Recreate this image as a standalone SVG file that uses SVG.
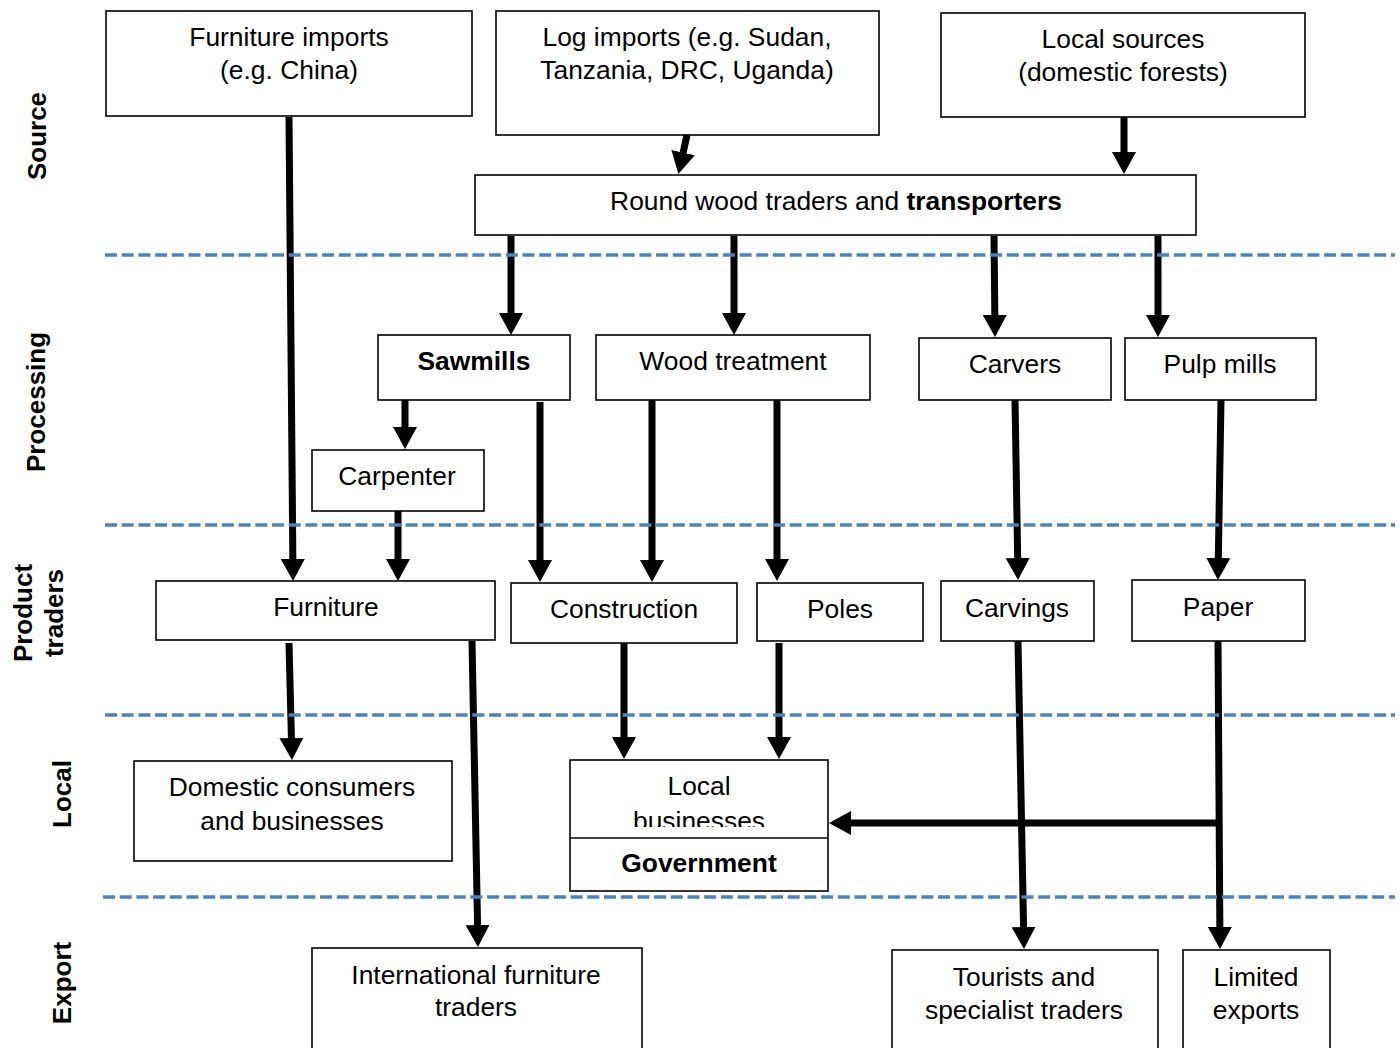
<svg xmlns="http://www.w3.org/2000/svg" width="1400" height="1048" viewBox="0 0 1400 1048">
<style>
.box{fill:#fff;stroke:#000;stroke-width:1.6}
.t{font-family:"Liberation Sans",Arial,sans-serif;font-size:26.4px;fill:#000;text-anchor:middle}
.b{font-weight:bold}
.lbl{font-family:"Liberation Sans",Arial,sans-serif;font-size:26px;font-weight:bold;fill:#000;text-anchor:middle}
.ar{fill:none;stroke:#000;stroke-width:7;marker-end:url(#ah)}
.dash{stroke:#4f81bd;stroke-width:3.6;stroke-dasharray:12 4.7;fill:none}
</style>
<defs>
<marker id="ah" markerUnits="userSpaceOnUse" viewBox="0 0 22 24" refX="7" refY="12" markerWidth="22" markerHeight="24" orient="auto">
<path d="M0,0 L22,12 L0,24 z" fill="#000"/>
</marker>
<clipPath id="lbclip"><rect x="570" y="760" width="259" height="67"/></clipPath>
</defs>
<rect width="1400" height="1048" fill="#fff"/>

<g id="labels">
<text class="lbl" transform="translate(46,136) rotate(-90)">Source</text>
<text class="lbl" transform="translate(45,402) rotate(-90)">Processing</text>
<text class="lbl" transform="translate(32,613) rotate(-90)">Product</text>
<text class="lbl" transform="translate(63,613) rotate(-90)">traders</text>
<text class="lbl" transform="translate(71,794) rotate(-90)">Local</text>
<text class="lbl" transform="translate(71,983) rotate(-90)">Export</text>
</g>

<g id="n-furniture-imports"><rect class="box" x="106" y="11" width="366" height="105"/>
<text class="t" x="289" y="46">Furniture imports</text><text class="t" x="289" y="79">(e.g. China)</text></g>
<g id="n-log-imports"><rect class="box" x="496" y="11" width="383" height="124"/>
<text class="t" x="687" y="46">Log imports (e.g. Sudan,</text><text class="t" x="687" y="79">Tanzania, DRC, Uganda)</text></g>
<g id="n-local-sources"><rect class="box" x="941" y="13" width="364" height="104"/>
<text class="t" x="1123" y="48">Local sources</text><text class="t" x="1123" y="81">(domestic forests)</text></g>
<g id="n-roundwood"><rect class="box" x="475" y="175" width="721" height="60"/>
<text class="t" x="836" y="210">Round wood traders and <tspan class="b">transporters</tspan></text></g>

<g id="n-sawmills"><rect class="box" x="378" y="335" width="192" height="65"/>
<text class="t b" x="474" y="370">Sawmills</text></g>
<g id="n-woodtreatment"><rect class="box" x="596" y="335" width="274" height="65"/>
<text class="t" x="733" y="370">Wood treatment</text></g>
<g id="n-carvers"><rect class="box" x="919" y="338" width="192" height="62"/>
<text class="t" x="1015" y="373">Carvers</text></g>
<g id="n-pulpmills"><rect class="box" x="1125" y="338" width="191" height="62"/>
<text class="t" x="1220" y="373">Pulp mills</text></g>
<g id="n-carpenter"><rect class="box" x="312" y="450" width="172" height="61"/>
<text class="t" x="397" y="485">Carpenter</text></g>

<g id="n-furniture"><rect class="box" x="156" y="581" width="339" height="59"/>
<text class="t" x="326" y="616">Furniture</text></g>
<g id="n-construction"><rect class="box" x="511" y="583" width="226" height="60"/>
<text class="t" x="624" y="618">Construction</text></g>
<g id="n-poles"><rect class="box" x="757" y="583" width="166" height="58"/>
<text class="t" x="840" y="618">Poles</text></g>
<g id="n-carvings"><rect class="box" x="941" y="581" width="153" height="60"/>
<text class="t" x="1017" y="617">Carvings</text></g>
<g id="n-paper"><rect class="box" x="1132" y="580" width="173" height="61"/>
<text class="t" x="1218" y="616">Paper</text></g>

<g id="n-domestic"><rect class="box" x="134" y="761" width="318" height="100"/>
<text class="t" x="292" y="796">Domestic consumers</text><text class="t" x="292" y="830">and businesses</text></g>
<g id="n-local-gov"><rect class="box" x="570" y="760" width="258" height="131"/>
<line x1="570" y1="838" x2="828" y2="838" stroke="#000" stroke-width="1.6"/>
<g clip-path="url(#lbclip)"><text class="t" x="699" y="795">Local</text><text class="t" x="699" y="830">businesses</text></g>
<text class="t b" x="699" y="872">Government</text></g>

<g id="n-international"><rect class="box" x="312" y="948" width="330" height="115"/>
<text class="t" x="476" y="984">International furniture</text><text class="t" x="476" y="1016">traders</text></g>
<g id="n-tourists"><rect class="box" x="892" y="950" width="266" height="115"/>
<text class="t" x="1024" y="986">Tourists and</text><text class="t" x="1024" y="1019">specialist traders</text></g>
<g id="n-limited"><rect class="box" x="1183" y="950" width="147" height="115"/>
<text class="t" x="1256" y="986">Limited</text><text class="t" x="1256" y="1019">exports</text></g>

<g id="connectors">
<path class="ar" d="M289,117 L292.9,566"/>
<path class="ar" d="M687,135 L681.6,159.4"/>
<path class="ar" d="M1124,117 L1124,159"/>
<path class="ar" d="M511,236 L511,320"/>
<path class="ar" d="M734,236 L734,320"/>
<path class="ar" d="M994,236 L994.9,322"/>
<path class="ar" d="M1158,236 L1158,322"/>
<path class="ar" d="M405,400 L405,434"/>
<path class="ar" d="M540,402 L540,567"/>
<path class="ar" d="M652,400 L652,567"/>
<path class="ar" d="M777,400 L777,566"/>
<path class="ar" d="M1015,400 L1017.8,565"/>
<path class="ar" d="M1221,400 L1218.2,565"/>
<path class="ar" d="M398,511 L398,566"/>
<path class="ar" d="M289,643 L291.6,745"/>
<path class="ar" d="M472,641 L477.7,932"/>
<path class="ar" d="M624,643 L624,744"/>
<path class="ar" d="M779,643 L779,744"/>
<path class="ar" d="M1018,641 L1023.7,934"/>
<path class="ar" d="M1218,641 L1219.9,934"/>
<path class="ar" d="M1222,823 L844,823"/>
</g>

<g id="dividers">
<line class="dash" x1="105" y1="255" x2="1395" y2="255"/>
<line class="dash" x1="105" y1="525" x2="1395" y2="525"/>
<line class="dash" x1="105" y1="715" x2="1395" y2="715"/>
<line class="dash" x1="103" y1="897" x2="1395" y2="897"/>
</g>
</svg>
